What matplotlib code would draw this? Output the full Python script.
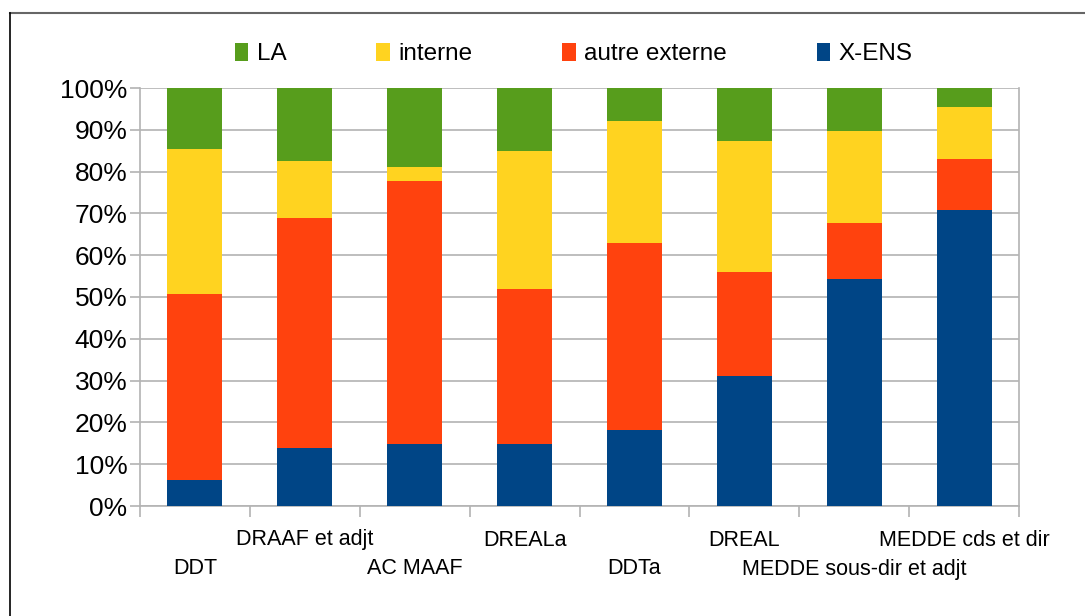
import matplotlib.pyplot as plt
import numpy as np
from matplotlib.lines import Line2D
from matplotlib.patches import Patch

plt.rcParams["font.family"] = ["Liberation Sans", "DejaVu Sans"]

categories = ["DDT", "DRAAF et adjt", "AC MAAF", "DREALa", "DDTa", "DREAL",
              "MEDDE sous-dir et adjt", "MEDDE cds et dir"]

# shares in %, bottom to top
x_ens = [6.2, 13.8, 14.8, 14.8, 18.3, 31.2, 54.2, 70.7]
autre_externe = [44.6, 55.0, 62.9, 37.0, 44.7, 24.9, 13.4, 12.4]
interne = [34.7, 13.8, 3.5, 33.2, 29.0, 31.3, 22.0, 12.4]
la = [14.5, 17.4, 18.8, 15.0, 8.0, 12.6, 10.4, 4.5]

series = [
    ("X-ENS", x_ens, "#004586"),
    ("autre externe", autre_externe, "#ff420e"),
    ("interne", interne, "#ffd320"),
    ("LA", la, "#579d1c"),
]

fig = plt.figure(figsize=(10.85, 6.16), dpi=100)
ax = fig.add_axes([140 / 1085, 1 - 506 / 616, 879 / 1085, 418 / 616])

x = np.arange(len(categories))
bottom = np.zeros(len(categories))
for name, vals, color in series:
    ax.bar(x, vals, width=0.5, bottom=bottom, color=color, zorder=3)
    bottom += np.array(vals)

ax.set_xlim(-0.5, len(categories) - 0.5)
ax.set_ylim(0, 100)
ax.set_yticks(np.arange(0, 101, 10))
ax.set_yticklabels([f"{v}%" for v in range(0, 101, 10)], fontsize=19)
ax.yaxis.grid(True, color="#b3b3b3", linewidth=1.2, zorder=0)
ax.tick_params(axis="y", length=7, color="#b3b3b3", width=1.2, pad=2)

# category boundary ticks, staggered labels
ax.set_xticks(np.arange(-0.5, len(categories), 1.0))
ax.set_xticklabels([])
ax.tick_params(axis="x", length=8, color="#b3b3b3", width=1.2)
for i, cat in enumerate(categories):
    yoff = -63 if i % 2 == 0 else -34
    ax.annotate(cat, xy=(i, 0), xycoords=("data", "data"),
                xytext=(0, yoff), textcoords="offset pixels",
                ha="center", va="center", fontsize=15.5, annotation_clip=False)

for side in ["left", "right", "bottom", "top"]:
    ax.spines[side].set_color("#b3b3b3")
    ax.spines[side].set_linewidth(1.2)
ax.spines["top"].set_visible(False)

handles = [Patch(facecolor=c, label=n) for n, _, c in reversed(series)]
fig.legend(handles=handles, loc="center", bbox_to_anchor=(0.529, 1 - 54 / 616),
           ncol=4, frameon=False, fontsize=17.5, handlelength=0.55, handleheight=0.8,
           handletextpad=0.35, columnspacing=3.7)

# outer frame (top and left only visible)
fig.add_artist(Line2D([9.5 / 1085, 1], [1 - 12.5 / 616, 1 - 12.5 / 616],
                      transform=fig.transFigure, color="#666666", linewidth=1.5))
fig.add_artist(Line2D([9.5 / 1085, 9.5 / 1085], [0, 1 - 12.5 / 616],
                      transform=fig.transFigure, color="black", linewidth=1.2))

fig.savefig("out.png", dpi=100)
